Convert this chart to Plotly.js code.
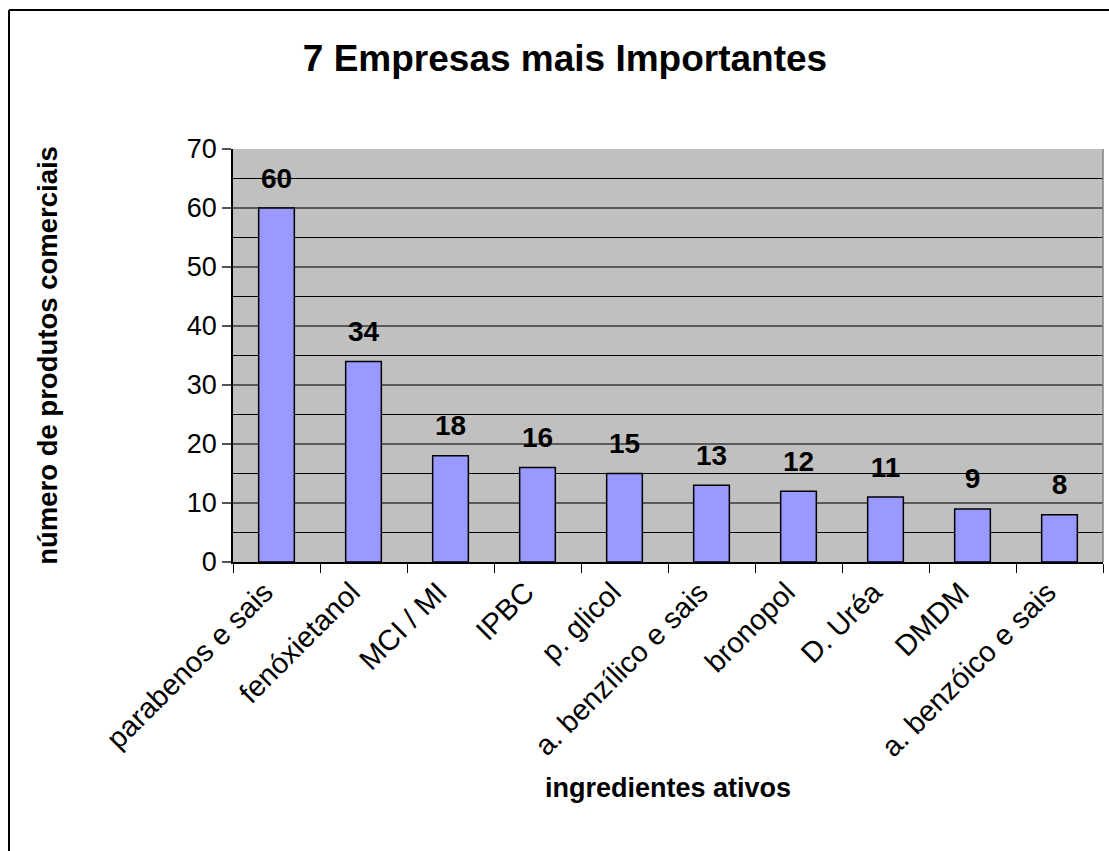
<!DOCTYPE html>
<html>
<head>
<meta charset="utf-8">
<script src="https://cdn.plot.ly/plotly-3.0.1.min.js"></script>
<style>
html,body{margin:0;padding:0;background:#fff;overflow:hidden;}
#chart{width:1109px;height:851px;}
</style>
</head>
<body>
<div id="chart"></div>
<script>
const categories = ["parabenos e sais","fenóxietanol","MCI / MI","IPBC","p. glicol","a. benzílico e sais","bronopol","D. Uréa","DMDM","a. benzóico e sais"];
const values = [60,34,18,16,15,13,12,11,9,8];
const chartTitle = "7 Empresas mais Importantes";
const xTitle = "ingredientes ativos";
const yTitle = "número de produtos comerciais";

const W = 1109, H = 851;
const mL = 233, mR = 6, mT = 149, mB = 289;
const pw = W - mL - mR, ph = H - mT - mB;
const FONT = "Liberation Sans, Arial, sans-serif";

const bars = {
  type: 'bar', x: categories, y: values, width: 0.41,
  marker: {color: '#9999FF', line: {color: '#000', width: 1.5}},
  hoverinfo: 'x+y', showlegend: false
};
const labels = {
  type: 'scatter', mode: 'markers+text', x: categories, y: values,
  text: values.map(String), textposition: 'top center',
  marker: {size: 20, color: 'rgba(0,0,0,0)'},
  textfont: {family: FONT, size: 28, color: '#000'},
  texttemplate: '<b>%{text}</b>',
  hoverinfo: 'skip', showlegend: false, cliponaxis: false
};

const layout = {
  width: W, height: H,
  margin: {l: mL, r: mR, t: mT, b: mB, autoexpand: false},
  paper_bgcolor: '#fff', plot_bgcolor: '#C0C0C0',
  font: {family: FONT, color: '#000'},
  title: {text: '<b>' + chartTitle + '</b>', font: {family: FONT, size: 37, color: '#000'},
          xref: 'container', x: 565 / W, xanchor: 'center', yref: 'container', y: 1 - 58 / H, yanchor: 'middle'},
  xaxis: {
    type: 'category', range: [-0.5, categories.length - 0.5], autorange: false,
    tickson: 'boundaries', ticks: 'outside', ticklen: 9, tickcolor: '#000', tickwidth: 1.2,
    tickangle: -45, tickfont: {family: FONT, size: 29, color: '#000'}, ticklabelshift: -12,
    showline: true, linecolor: '#000', linewidth: 1.5, showgrid: false, automargin: false,
    title: {text: '<b>' + xTitle + '</b>', font: {family: FONT, size: 27, color: '#000'}, standoff: 16}
  },
  yaxis: {
    range: [0, 70], autorange: false, dtick: 10, tick0: 0, ticks: 'outside', ticklen: 9, tickcolor: '#555', tickwidth: 1.5,
    tickfont: {family: FONT, size: 27, color: '#000'},
    showline: true, linecolor: '#000', linewidth: 1.5, mirror: false,
    showgrid: true, gridcolor: '#5a5a5a', gridwidth: 1.5,
    minor: {dtick: 5, showgrid: true, gridcolor: '#000', gridwidth: 1},
    zeroline: false, automargin: false,
    title: {text: '<b>' + yTitle + '</b>', font: {family: FONT, size: 27.5, color: '#000'}, standoff: 121}
  },
  shapes: [
    {type: 'line', xref: 'paper', yref: 'paper', x0: 1, x1: 1, y0: 0, y1: 1, line: {color: '#808080', width: 1.5}},
    {type: 'line', xref: 'paper', yref: 'paper', x0: (9 - mL) / pw, x1: (9 - mL) / pw, y0: (mT + ph - 10) / ph, y1: (mT + ph - 870) / ph, line: {color: '#000', width: 2}},
    {type: 'line', xref: 'paper', yref: 'paper', x0: (9 - mL) / pw, x1: (W + 20 - mL) / pw, y0: (mT + ph - 10) / ph, y1: (mT + ph - 10) / ph, line: {color: '#000', width: 2}}
  ]
};

Plotly.newPlot('chart', [bars, labels], layout, {displayModeBar: false});
</script>
</body>
</html>
